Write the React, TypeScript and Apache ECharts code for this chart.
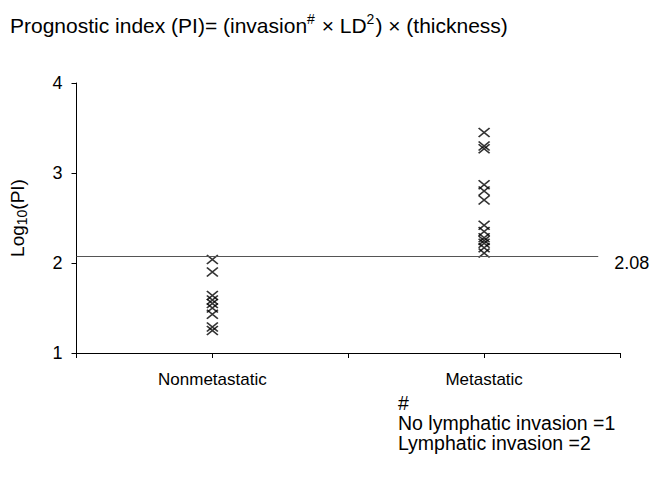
import React, { useEffect, useRef } from "react";
import * as echarts from "echarts";

const categories = ["Nonmetastatic", "Metastatic"];
const nonMetastatic = [2.04, 1.9, 1.64, 1.59, 1.55, 1.5, 1.43, 1.29, 1.25];
const metastatic = [3.45, 3.3, 3.27, 2.87, 2.8, 2.7, 2.42, 2.35, 2.28, 2.25, 2.22, 2.17, 2.11];
const cutoff = 2.08;
const yTicks = [1, 2, 3, 4];
const footnoteLines = ["#", "No lymphatic invasion =1", "Lymphatic invasion =2"];

const FONT = "Liberation Sans, Arial, sans-serif";

export default function App() {
  const ref = useRef<HTMLDivElement>(null);
  useEffect(() => {
    document.body.style.margin = "0";
    const chart = echarts.init(ref.current!, null, { renderer: "svg" });
    const cross = "path://M0,0L10,10M10,0L0,10";
    const pts = (vals: number[], idx: number) => vals.map((v) => [idx + 0.5, v]);
    chart.setOption({
      animation: false,
      textStyle: { fontFamily: FONT, color: "#000" },
      grid: { left: 72, right: 31, top: 83, bottom: 128 },
      xAxis: {
        type: "value",
        min: 0,
        max: 2,
        interval: 0.5,
        splitLine: { show: false },
        axisLine: { lineStyle: { color: "#000", width: 1 } },
        axisTick: { show: true, length: 5, lineStyle: { color: "#000" } },
        axisLabel: {
          fontSize: 17,
          color: "#000",
          margin: 18,
          fontFamily: FONT,
          formatter: (v: number) => {
            const i = Math.round(v - 0.5);
            return Math.abs(v - (i + 0.5)) < 1e-6 && categories[i] ? categories[i] : "";
          },
        },
      },
      yAxis: {
        type: "value",
        min: yTicks[0],
        max: yTicks[yTicks.length - 1],
        interval: 1,
        splitLine: { show: false },
        axisLine: { show: true, lineStyle: { color: "#000", width: 1 } },
        axisTick: { show: true, length: 5, lineStyle: { color: "#000" } },
        axisLabel: { fontSize: 18, color: "#000", margin: 14, fontFamily: FONT },
        name: "{a|Log}{s|10}{a|(PI)}",
        nameLocation: "middle",
        nameGap: 48,
        nameRotate: 90,
        nameTextStyle: {
          rich: {
            a: { fontSize: 19, color: "#000", fontFamily: FONT },
            s: { fontSize: 14, color: "#000", fontFamily: FONT, verticalAlign: "bottom", padding: [8, 0, 0, 0] },
          },
        },
      },
      series: [
        {
          type: "scatter",
          data: pts(nonMetastatic, 0),
          symbol: cross,
          symbolSize: [11, 9],
          itemStyle: { color: "none", borderColor: "#000", borderWidth: 1.6 },
          markLine: {
            silent: true,
            symbol: "none",
            lineStyle: { color: "#555", type: "solid", width: 1 },
            label: {
              show: true,
              position: "end",
              formatter: String(cutoff),
              fontSize: 18,
              color: "#000",
              fontFamily: FONT,
              distance: 16,
              offset: [0, 7],
            },
            data: [[{ coord: [0, cutoff] }, { coord: [1.92, cutoff] }]],
          },
        },
        {
          type: "scatter",
          data: pts(metastatic, 1),
          symbol: cross,
          symbolSize: [11, 9],
          itemStyle: { color: "none", borderColor: "#000", borderWidth: 1.6 },
        },
      ],
      graphic: [
        {
          type: "text",
          left: 10,
          top: 12,
          style: {
            text: "{a|Prognostic index (PI)= (invasion}{s|#}{a| × LD}{s|2}{a|) × (thickness)}",
            rich: {
              a: { fontSize: 21, fontFamily: FONT, fill: "#000", lineHeight: 26 },
              s: { fontSize: 14, fontFamily: FONT, fill: "#000", verticalAlign: "top", lineHeight: 26, padding: [0, 1, 10, 0] },
            },
          },
        },
        ...footnoteLines.map((t, i) => ({
          type: "text",
          left: 398,
          top: 393 + i * 20,
          style: {
            text: t,
            fontSize: 19.5,
            lineHeight: 19.5,
            fontFamily: FONT,
            fill: "#000",
          },
        })),
      ],
    });
    return () => chart.dispose();
  }, []);
  return <div ref={ref} style={{ width: 651, height: 481 }} />;
}
